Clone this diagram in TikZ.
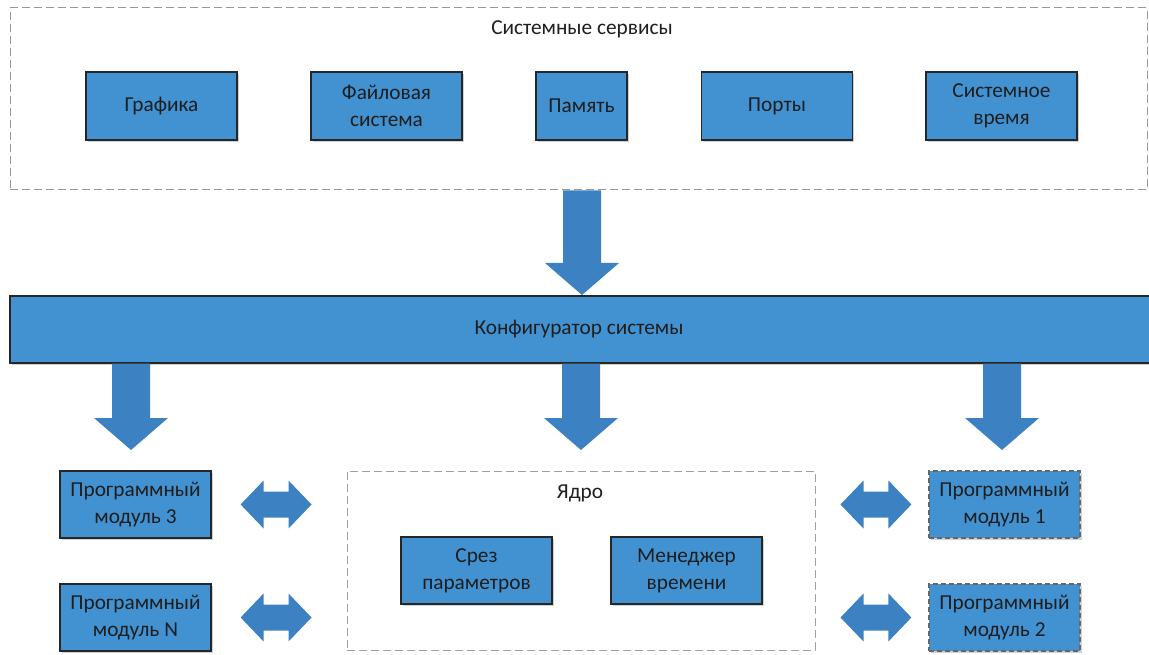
\documentclass[tikz,border=0pt]{standalone}
\usepackage{fontspec}
\setmainfont{Carlito}
\usetikzlibrary{calc,shadows}

\definecolor{boxblue}{RGB}{66,146,210}
\definecolor{arrowblue}{RGB}{60,130,195}
\definecolor{framegray}{RGB}{150,150,155}
\definecolor{kernelgray}{RGB}{170,158,150}
\definecolor{textgray}{RGB}{30,30,30}

\tikzset{
  x=1pt, y=-1pt,
  every node/.style={font=\fontsize{21.3}{27}\selectfont, text=textgray, align=center},
  unit/.style={draw=black!85, line width=1.2pt, fill=boxblue, inner sep=0pt,
               drop shadow={shadow xshift=1.5pt, shadow yshift=-2pt, opacity=0.18, fill=black}},
  wide/.style={unit, minimum width=151pt, minimum height=68pt},
  narrow/.style={unit, minimum width=91pt, minimum height=68pt},
  module/.style={wide, minimum height=67pt},
  extmodule/.style={module, draw=black!60, dashed, dash pattern=on 5pt off 3pt},
  container/.style={draw=#1, line width=1pt, dash pattern=on 8pt off 4pt, inner sep=0pt},
  block/.style={fill=arrowblue},
}

% broad downward arrow from point #1 to tip #2 (same x)
\newcommand\blockdown[2]{%
  \fill[block] let \p1=(#1), \p2=(#2) in
    (\x1-19pt,\y1) -- (\x1+19pt,\y1) -- (\x1+19pt,\y2+32pt) -- (\x1+37pt,\y2+32pt)
    -- (\x1,\y2) -- (\x1-37pt,\y2+32pt) -- (\x1-19pt,\y2+32pt) -- cycle;}

% broad two-headed horizontal arrow between tips #1 (left) and #2 (right)
\newcommand\blockboth[2]{%
  \fill[block] let \p1=(#1), \p2=(#2) in
    (\x1,\y1) -- (\x1+23pt,\y1+24pt) -- (\x1+23pt,\y1+13pt) -- (\x2-23pt,\y1+13pt)
    -- (\x2-23pt,\y1+24pt) -- (\x2,\y1) -- (\x2-23pt,\y1-24pt) -- (\x2-23pt,\y1-13pt)
    -- (\x1+23pt,\y1-13pt) -- (\x1+23pt,\y1-24pt) -- cycle;}

\begin{document}
\begin{tikzpicture}
\useasboundingbox (0,0) rectangle (1149,655);
\clip (0,0) rectangle (1149,655);
\fill[white] (0,0) rectangle (1149,655);

% system services
\node[container=framegray, minimum width=1137pt, minimum height=182pt] (services) at (578.5,99) {};
\node (servtitle) at (582,29) {Системные сервисы};
\node[wide]   (graph) at (161.5,106) {Графика};
\node[wide]   (fs)    at (386.5,106) {Файловая\\система};
\node[narrow] (mem)   at (581.5,106) {Память};
\node[wide]   (ports) at (777,106)   {Порты};
\node[wide]   (time)  at (1001.5,106) {Системное\\время};

% configurator bar
\node[unit, minimum width=1142pt, minimum height=67pt] (cfg) at (581,329.5) {};
\node (cfgtitle) at (579,329) {Конфигуратор системы};

% kernel
\node[container=kernelgray, minimum width=468pt, minimum height=179pt] (kernel) at (581,560.5) {};
\node (kerneltitle) at (580,493) {Ядро};
\node[module] (slice) at (476.5,570.5) {Срез\\параметров};
\node[module] (tmgr)  at (686.5,570.5) {Менеджер\\времени};

% program modules
\node[module]    (mod3) at (135.5,504.5)  {Программный\\модуль 3};
\node[module]    (modN) at (135.5,617.5)  {Программный\\модуль N};
\node[extmodule] (mod1) at (1004.5,504.5) {Программный\\модуль 1};
\node[extmodule] (mod2) at (1004.5,617.5) {Программный\\модуль 2};

% arrow anchor points
\coordinate (downtip) at (582,295);
\coordinate (tipL) at (131,450);
\coordinate (tipM) at (581,450);
\coordinate (tipR) at (1002,450);

% flows
\blockdown{services.south -| downtip}{downtip}
\blockdown{cfg.south -| tipL}{tipL}
\blockdown{cfg.south -| tipM}{tipM}
\blockdown{cfg.south -| tipR}{tipR}

\blockboth{$(mod3.east)+(29,0)$}{$(kernel.west |- mod3.east)+(-35,0)$}
\blockboth{$(modN.east)+(29,0)$}{$(kernel.west |- modN.east)+(-35,0)$}
\blockboth{$(kernel.east |- mod1.west)+(25,0)$}{$(mod1.west)+(-17,0)$}
\blockboth{$(kernel.east |- mod2.west)+(25,0)$}{$(mod2.west)+(-17,0)$}
\end{tikzpicture}
\end{document}
